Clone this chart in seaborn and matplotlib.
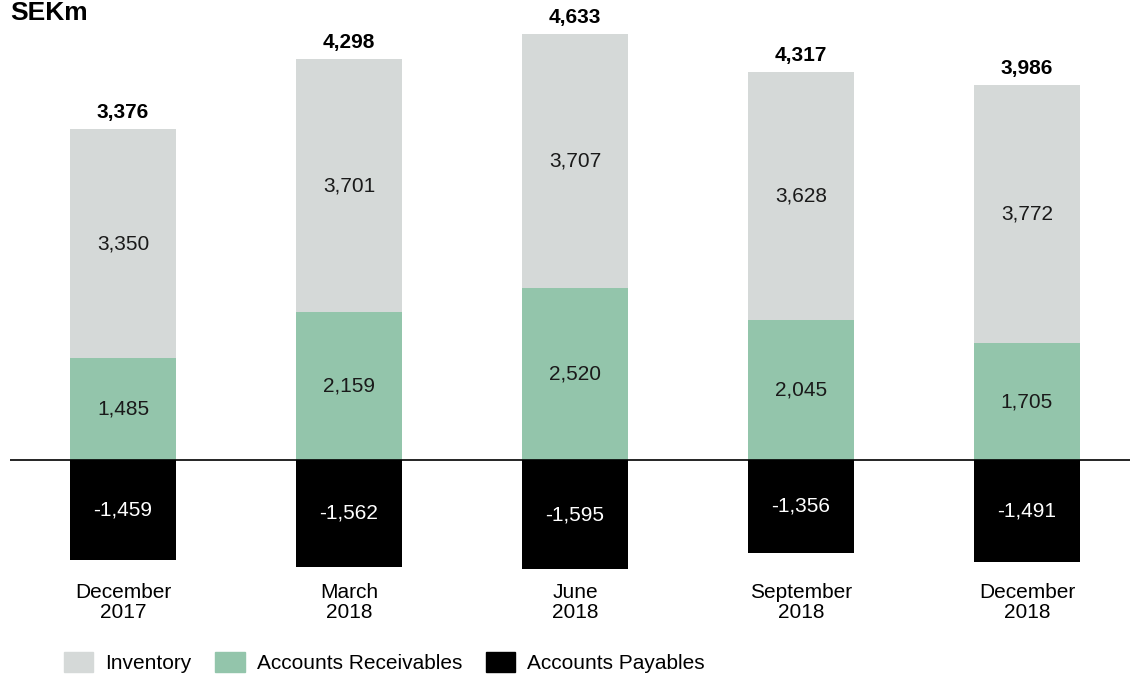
import matplotlib
matplotlib.use("Agg")
import matplotlib.pyplot as plt
import seaborn as sns
import pandas as pd
from matplotlib.patches import Patch

periods = ["December\n2017", "March\n2018", "June\n2018", "September\n2018", "December\n2018"]
inventory = [3350, 3701, 3707, 3628, 3772]
receivables = [1485, 2159, 2520, 2045, 1705]
payables = [-1459, -1562, -1595, -1356, -1491]
totals = [3376, 4298, 4633, 4317, 3986]

df = pd.DataFrame({
    "period": periods,
    "inventory": inventory,
    "receivables": receivables,
    "payables": payables,
    "total": totals,
})

sns.set_style("white")
plt.rcParams["font.family"] = ["Liberation Sans", "DejaVu Sans"]
plt.rcParams["text.color"] = "black"
plt.rcParams["xtick.color"] = "black"

c_inv = "#d5d9d8"
c_rec = "#93c5ab"
c_pay = "#000000"

fig = plt.figure(figsize=(11.3, 6.75), dpi=100)
ax = fig.add_axes([0.00885, 0.1407, 0.99115, 0.8296])

w = 0.47
sns.barplot(data=df, x="period", y="receivables", color=c_rec, width=w,
            saturation=1, linewidth=0, ax=ax)
sns.barplot(data=df, x="period", y="inventory", color=c_inv, width=w,
            saturation=1, linewidth=0, bottom=df["receivables"], ax=ax)
sns.barplot(data=df, x="period", y="payables", color=c_pay, width=w,
            saturation=1, linewidth=0, ax=ax)

ax.axhline(0, color="black", lw=1.2)

fs = 15
for i, row in df.iterrows():
    ax.text(i, row["receivables"] / 2, f"{row['receivables']:,}",
            ha="center", va="center", fontsize=fs, color="#1a1a1a")
    ax.text(i, row["receivables"] + row["inventory"] / 2, f"{row['inventory']:,}",
            ha="center", va="center", fontsize=fs, color="#1a1a1a")
    ax.text(i, row["payables"] / 2, f"{row['payables']:,}",
            ha="center", va="center", fontsize=fs, color="white")
    ax.annotate(f"{row['total']:,}", (i, row["receivables"] + row["inventory"]),
                xytext=(0, 5), textcoords="offset points",
                ha="center", va="bottom", fontsize=fs, fontweight="bold")

ax.set_xlim(-0.5, 4.456)
ax.set_ylim(-1754, 6433)
ax.set_yticks([])
ax.set_xlabel("")
ax.set_ylabel("")
ax.tick_params(axis="x", length=0, labelsize=fs, pad=2)
for lbl in ax.get_xticklabels():
    lbl.set_linespacing(1.1)
sns.despine(ax=ax, left=True, bottom=True)

fig.text(0.009, 0.998, "SEKm", ha="left", va="top", fontsize=19, fontweight="bold")

handles = [Patch(color=c_inv, label="Inventory"),
           Patch(color=c_rec, label="Accounts Receivables"),
           Patch(color=c_pay, label="Accounts Payables")]
fig.legend(handles=handles, loc="lower left", bbox_to_anchor=(0.0566, 0.003), ncol=3,
           frameon=False, fontsize=fs, handlelength=1.4, handleheight=1.06,
           columnspacing=1.15, handletextpad=0.58, borderpad=0, borderaxespad=0)

fig.savefig("out.png", dpi=100)
